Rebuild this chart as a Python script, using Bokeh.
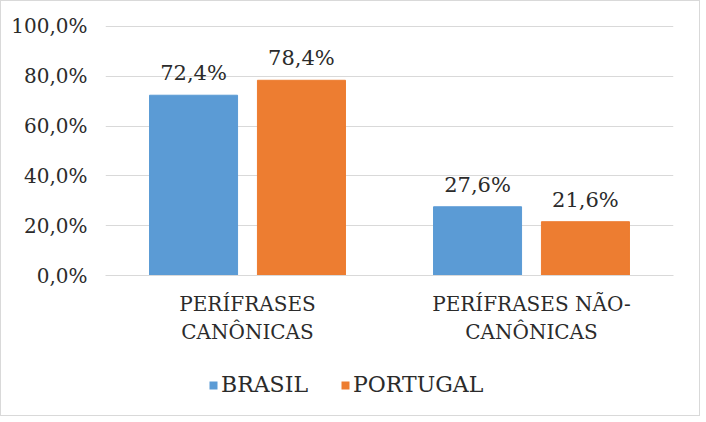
from bokeh.plotting import figure
from bokeh.layouts import column
from bokeh.models import FactorRange, Range1d, FixedTicker, ColumnDataSource, Legend, LegendItem
from bokeh.transform import dodge
from bokeh.core.properties import value
from bokeh.embed import file_html
from bokeh.resources import INLINE

categories = ["PERÍFRASES\nCANÔNICAS", "PERÍFRASES NÃO-\nCANÔNICAS"]
series = ["BRASIL", "PORTUGAL"]
brasil = [72.4, 27.6]
portugal = [78.4, 21.6]
yticks = [0, 20, 40, 60, 80, 100]
ytick_labels = ["0,0%", "20,0%", "40,0%", "60,0%", "80,0%", "100,0%"]

FONT = "DejaVu Serif"
BLUE = "#5B9BD5"
ORANGE = "#ED7D31"
TXT = "#2b2b2b"

src = ColumnDataSource(dict(
    cat=categories,
    brasil=brasil,
    portugal=portugal,
    brasil_lbl=[f"{v:.1f}%".replace(".", ",") for v in brasil],
    portugal_lbl=[f"{v:.1f}%".replace(".", ",") for v in portugal],
))

p = figure(width=698, height=348, x_range=FactorRange(*categories), y_range=Range1d(0, 100.4),
           output_backend="svg", toolbar_location=None,
           min_border_left=104, min_border_right=26, min_border_top=24, min_border_bottom=74)
p.outline_line_color = None
p.background_fill_color = "white"
p.border_fill_color = "white"

off = 0.19
w = 0.31
p.vbar(x=dodge("cat", -off, range=p.x_range), top="brasil", width=w, source=src,
       fill_color=BLUE, line_color=BLUE)
p.vbar(x=dodge("cat", off, range=p.x_range), top="portugal", width=w, source=src,
       fill_color=ORANGE, line_color=ORANGE)

p.text(x=dodge("cat", -off, range=p.x_range), y="brasil", text="brasil_lbl", source=src,
       text_font=value(FONT), text_font_size="21px", text_color=TXT,
       text_align="center", text_baseline="bottom", y_offset=-10)
p.text(x=dodge("cat", off, range=p.x_range), y="portugal", text="portugal_lbl", source=src,
       text_font=value(FONT), text_font_size="21px", text_color=TXT,
       text_align="center", text_baseline="bottom", y_offset=-10)

# y axis
p.yaxis.ticker = FixedTicker(ticks=yticks)
p.yaxis.major_label_overrides = {t: l for t, l in zip(yticks, ytick_labels)}
p.yaxis.axis_line_color = None
p.yaxis.major_tick_line_color = None
p.yaxis.minor_tick_line_color = None
p.yaxis.major_label_standoff = 12
p.yaxis.major_label_text_font = FONT
p.yaxis.major_label_text_font_size = "20px"
p.yaxis.major_label_text_color = TXT

# x axis
p.xaxis.axis_line_color = "#d9d9d9"
p.xaxis.major_tick_line_color = None
p.xaxis.minor_tick_line_color = None
p.xaxis.major_label_standoff = 10
p.xaxis.major_label_text_font = FONT
p.xaxis.major_label_text_font_size = "20px"
p.xaxis.major_label_text_color = TXT

p.xgrid.grid_line_color = None
p.ygrid.grid_line_color = "#d9d9d9"

# legend strip below the chart (swatch renderers have zero size and sit outside its range)
lf = figure(width=698, height=66, x_range=FactorRange(*categories), y_range=Range1d(0, 1),
            output_backend="svg", toolbar_location=None,
            x_axis_type=None, y_axis_type=None,
            min_border_left=0, min_border_right=0, min_border_top=0, min_border_bottom=0)
lf.outline_line_color = None
lf.background_fill_color = "white"
lf.border_fill_color = "white"
lf.xgrid.grid_line_color = None
lf.ygrid.grid_line_color = None
lb = lf.vbar(x="cat", top="brasil", bottom="brasil", width=0, source=src,
             fill_color=BLUE, line_color=None)
lo = lf.vbar(x="cat", top="portugal", bottom="portugal", width=0, source=src,
             fill_color=ORANGE, line_color=None)

legend = Legend(items=[LegendItem(label=series[0], renderers=[lb]),
                       LegendItem(label=series[1], renderers=[lo])],
                orientation="horizontal", location=(103, 18),
                glyph_width=10, glyph_height=10, label_standoff=3, spacing=32,
                padding=0, margin=0, border_line_color=None, background_fill_alpha=0,
                label_text_font=FONT, label_text_font_size="22px", label_text_color=TXT)
lf.add_layout(legend, "center")

layout = column(p, lf, spacing=0, styles={"border": "1px solid #d9d9d9"})

open("out.html", "w").write(file_html(layout, INLINE))
